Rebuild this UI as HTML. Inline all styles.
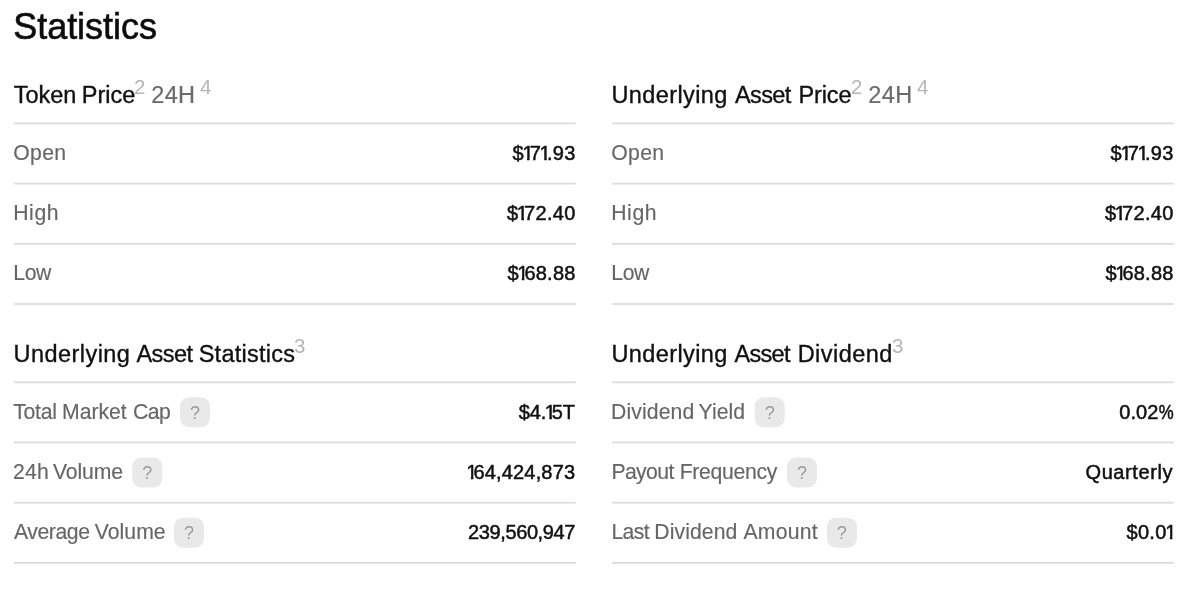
<!DOCTYPE html>
<html lang="en">
<head>
<meta charset="utf-8">
<title>Statistics</title>
<style>
  html, body { margin: 0; padding: 0; background: #ffffff; }
  body {
    width: 1198px; height: 596px; position: relative; overflow: hidden;
    font-family: "Liberation Sans", sans-serif;
    color: #111111;
  }
  .bg { position: absolute; left: 0; top: 0; width: 1198px; height: 596px; }
  h1 {
    position: absolute; left: 13.24px; top: 7px; margin: 0;
    font-size: 36px; line-height: 40px; font-weight: 400;
    color: #0c0c0c; white-space: nowrap;
    -webkit-text-stroke: 0.6px #0c0c0c;
  }
  .col { position: absolute; width: 562px; }
  .c1 { left: 14px; }
  .c2 { left: 612px; }
  .b1 { top: 68px; }
  .b2 { top: 327px; }
  .head {
    height: 55px; box-sizing: border-box; margin: 0;
    font-size: 23.5px; font-weight: 400; line-height: 54px;
    color: #101010; white-space: nowrap; position: relative;
    transform: scaleX(1.0); transform-origin: 0 50%;
    -webkit-text-stroke: 0.35px #101010;
  }
  .w { display: inline-block; }
  .head .per { display: inline-block; color: #6b6b6b; -webkit-text-stroke: 0.2px #6b6b6b; margin-left: 6.1px; letter-spacing: 0.4px; }
  .head sup {
    display: inline-block; font-size: 19.5px; color: #b6b6b6; line-height: 0;
    vertical-align: baseline; position: relative; top: -9px;
    letter-spacing: 0; -webkit-text-stroke: 0; margin-left: 0px;
    transform: scaleX(1.05); transform-origin: 0 50%;
  }
  .head sup.s4 { margin-left: 4.2px; }
  .row {
    height: 60px; box-sizing: border-box; padding-top: 1px;
    display: flex; align-items: center; justify-content: space-between;
    font-size: 20px; white-space: nowrap;
  }
  .lab { font-size: 21.2px; color: #666666; display: flex; align-items: center; position: relative; top: -1px;
         -webkit-text-stroke: 0.15px #666666; }
  .lt { display: inline-block; position: relative; transform: scaleX(1.0); transform-origin: 0 50%; }
  .val { color: #111; position: relative; top: 0px; -webkit-text-stroke: 0.5px #111; }
  .one { display: inline-block; margin-left: -1.6px; margin-right: -4.1px;
         clip-path: polygon(0 0, 100% 0, 100% 0.79em, 0.358em 0.79em, 0.358em 1.2em, 0.233em 1.2em, 0.233em 0.79em, 0 0.79em); }
  .pc { display: inline-block; transform: scaleX(0.84); transform-origin: 100% 50%; margin-left: -2.6px; }
  .q {
    display: inline-block; width: 30px; height: 30px;
    color: #9a9a9a; font-size: 18px; line-height: 30px;
    text-align: center; letter-spacing: 0; -webkit-text-stroke: 0; position: absolute; top: 50%; margin-top: -14px;
  }
</style>
</head>
<body>
  <svg class="bg" width="1198" height="596" viewBox="0 0 1198 596" aria-hidden="true">
    <g fill="#dddddd">
      <rect x="13.9" y="122.50" width="562.0" height="1.8"/>
      <rect x="612.0" y="122.50" width="561.7" height="1.8"/>
      <rect x="13.9" y="182.70" width="562.0" height="1.8"/>
      <rect x="612.0" y="182.70" width="561.7" height="1.8"/>
      <rect x="13.9" y="242.90" width="562.0" height="1.8"/>
      <rect x="612.0" y="242.90" width="561.7" height="1.8"/>
      <rect x="13.9" y="303.10" width="562.0" height="1.8"/>
      <rect x="612.0" y="303.10" width="561.7" height="1.8"/>
      <rect x="13.9" y="381.40" width="562.0" height="1.8"/>
      <rect x="612.0" y="381.40" width="561.7" height="1.8"/>
      <rect x="13.9" y="441.60" width="562.0" height="1.8"/>
      <rect x="612.0" y="441.60" width="561.7" height="1.8"/>
      <rect x="13.9" y="501.80" width="562.0" height="1.8"/>
      <rect x="612.0" y="501.80" width="561.7" height="1.8"/>
      <rect x="13.9" y="562.00" width="562.0" height="1.8"/>
      <rect x="612.0" y="562.00" width="561.7" height="1.8"/>
    </g>
    <g fill="#e9e9e9">
      <rect x="180.0" y="397.2" width="30" height="30" rx="9" ry="9"/>
      <rect x="132.3" y="457.5" width="30" height="30" rx="9" ry="9"/>
      <rect x="174.0" y="517.7" width="30" height="30" rx="9" ry="9"/>
      <rect x="754.7" y="397.2" width="30" height="30" rx="9" ry="9"/>
      <rect x="787.0" y="457.5" width="30" height="30" rx="9" ry="9"/>
      <rect x="826.9" y="517.7" width="30" height="30" rx="9" ry="9"/>
    </g>
  </svg>
  <h1 style="letter-spacing:-0.041px">Statistics</h1>

  <section class="col c1 b1">
    <h2 class="head"><span class="w" style="letter-spacing:-0.018px;margin-left:-0.31px">Token</span> <span class="w" style="letter-spacing:-0.035px;margin-left:-1.04px">Price</span><sup style="margin-left:-1.0px">2</sup><span class="per">24H</span><sup class="s4">4</sup></h2>
    <div class="row"><span class="lab"><span class="lt"><span class="w" style="letter-spacing:0.311px;margin-left:-0.7px">Open</span></span></span><span class="val" style="letter-spacing:0.315px;right:0.31px">$<span class="one">1</span>7<span class="one">1</span>.93</span></div>
    <div class="row"><span class="lab"><span class="lt"><span class="w" style="letter-spacing:0.608px;margin-left:-0.83px">High</span></span></span><span class="val" style="letter-spacing:0.317px;right:0.25px">$<span class="one">1</span>72.40</span></div>
    <div class="row"><span class="lab"><span class="lt"><span class="w" style="letter-spacing:-0.327px;margin-left:-0.83px">Low</span></span></span><span class="val" style="letter-spacing:0.227px;right:0.41px">$<span class="one">1</span>68.88</span></div>
  </section>

  <section class="col c2 b1">
    <h2 class="head"><span class="w" style="letter-spacing:0.388px;margin-left:-0.5px">Underlying</span> <span class="w" style="letter-spacing:-0.6px;margin-left:0.67px">Asset</span> <span class="w" style="letter-spacing:-0.123px;margin-left:1.19px">Price</span><sup style="margin-left:0px">2</sup><span class="per">24H</span><sup class="s4">4</sup></h2>
    <div class="row"><span class="lab"><span class="lt"><span class="w" style="letter-spacing:0.311px;margin-left:-0.7px">Open</span></span></span><span class="val" style="letter-spacing:0.315px;right:0.31px">$<span class="one">1</span>7<span class="one">1</span>.93</span></div>
    <div class="row"><span class="lab"><span class="lt"><span class="w" style="letter-spacing:0.608px;margin-left:-0.83px">High</span></span></span><span class="val" style="letter-spacing:0.317px;right:0.25px">$<span class="one">1</span>72.40</span></div>
    <div class="row"><span class="lab"><span class="lt"><span class="w" style="letter-spacing:-0.327px;margin-left:-0.83px">Low</span></span></span><span class="val" style="letter-spacing:0.227px;right:0.41px">$<span class="one">1</span>68.88</span></div>
  </section>

  <section class="col c1 b2">
    <h2 class="head"><span class="w" style="letter-spacing:0.46px;margin-left:-0.55px">Underlying</span> <span class="w" style="letter-spacing:-0.534px;margin-left:-0.52px">Asset</span> <span class="w" style="letter-spacing:0.242px;margin-left:-0.35px">Statistics</span><sup style="margin-left:-0.9px">3</sup></h2>
    <div class="row"><span class="lab"><span class="lt"><span class="w" style="letter-spacing:-0.232px;margin-left:-0.82px">Total</span> <span class="w" style="letter-spacing:-0.041px;margin-left:-0.59px">Market</span> <span class="w" style="letter-spacing:-0.533px;margin-left:0.6px">Cap</span></span><span class="q" style="left:166px">?</span></span><span class="val" style="letter-spacing:-0.049px;right:1.04px">$4.<span class="one">1</span>5T</span></div>
    <div class="row"><span class="lab"><span class="lt"><span class="w" style="letter-spacing:0.182px;margin-left:-1.05px">24h</span> <span class="w" style="letter-spacing:-0.127px;margin-left:-1.77px">Volume</span></span><span class="q" style="left:118.3px">?</span></span><span class="val" style="letter-spacing:0.171px;right:0.76px"><span class="one">1</span>64,424,873</span></div>
    <div class="row"><span class="lab"><span class="lt"><span class="w" style="letter-spacing:-0.402px;margin-left:-0.13px">Average</span> <span class="w" style="letter-spacing:0.022px;margin-left:-0.67px">Volume</span></span><span class="q" style="left:160px">?</span></span><span class="val" style="letter-spacing:-0.382px;right:0.97px">239,560,947</span></div>
  </section>

  <section class="col c2 b2">
    <h2 class="head"><span class="w" style="letter-spacing:0.383px;margin-left:-0.5px">Underlying</span> <span class="w" style="letter-spacing:-0.686px;margin-left:0.31px">Asset</span> <span class="w" style="letter-spacing:0.472px;margin-left:1.26px">Dividend</span><sup style="margin-left:-0.8px">3</sup></h2>
    <div class="row"><span class="lab"><span class="lt"><span class="w" style="letter-spacing:0.112px;margin-left:-1.02px">Dividend</span> <span class="w" style="letter-spacing:0.073px;margin-left:-1.73px">Yield</span></span><span class="q" style="left:142.7px">?</span></span><span class="val" style="letter-spacing:0.103px;right:0.19px">0.02<span class="pc">%</span></span></div>
    <div class="row"><span class="lab"><span class="lt"><span class="w" style="letter-spacing:-0.604px;margin-left:-0.6px">Payout</span> <span class="w" style="letter-spacing:-0.286px;margin-left:0.01px">Frequency</span></span><span class="q" style="left:175px">?</span></span><span class="val" style="letter-spacing:0.609px;right:0.81px">Quarterly</span></div>
    <div class="row"><span class="lab"><span class="lt"><span class="w" style="letter-spacing:-0.611px;margin-left:-0.64px">Last</span> <span class="w" style="letter-spacing:0.071px;margin-left:-0.55px">Dividend</span> <span class="w" style="letter-spacing:0.232px;margin-left:0.21px">Amount</span></span><span class="q" style="left:214.7px">?</span></span><span class="val" style="letter-spacing:0.357px;right:1.44px">$0.0<span class="one">1</span></span></div>
  </section>
</body>
</html>
